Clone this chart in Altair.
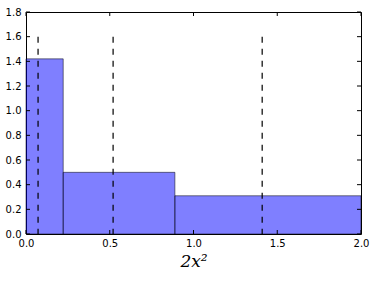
import altair as alt
import pandas as pd

bin_left = [0.0, 0.2222, 0.8889]
bin_right = [0.2222, 0.8889, 2.0]
density = [1.42, 0.50, 0.31]

vline_x = [0.072, 0.52, 1.41]
vline_top = [1.6, 1.6, 1.6]

x_ticks = [0.0, 0.5, 1.0, 1.5, 2.0]
y_ticks = [0.0, 0.2, 0.4, 0.6, 0.8, 1.0, 1.2, 1.4, 1.6, 1.8]

W, H = 335, 222

bars_df = pd.DataFrame({"left": bin_left, "right": bin_right, "h": density})
vl_df = pd.DataFrame({"x": vline_x, "top": vline_top})
xt_df = pd.DataFrame({"t": x_ticks})
yt_df = pd.DataFrame({"t": y_ticks})

xscale = alt.Scale(domain=[0, 2], nice=False, zero=False)
yscale = alt.Scale(domain=[0, 1.8], nice=False)

xaxis = alt.Axis(values=x_ticks, format=".1f", ticks=False, grid=False, domain=False,
                 labelFlush=False, labelOverlap=False, labelPadding=4,
                 labelFont="DejaVu Sans", labelFontSize=10, labelColor="black",
                 title="2x²", titleFont="DejaVu Serif", titleFontSize=17,
                 titleFontStyle="italic",
                 titleFontWeight="normal", titleColor="black", titlePadding=5)
yaxis = alt.Axis(values=y_ticks, format=".1f", ticks=False, grid=False, domain=False,
                 labelFlush=False, labelOverlap=False, labelPadding=5,
                 labelFont="DejaVu Sans", labelFontSize=10, labelColor="black",
                 title=None)

bars = alt.Chart(bars_df).mark_rect(
    fill="blue", fillOpacity=0.5, stroke="black", strokeOpacity=0.5, strokeWidth=1
).encode(
    x=alt.X("left:Q", scale=xscale, axis=xaxis),
    x2="right:Q",
    y=alt.Y("h:Q", scale=yscale, axis=yaxis),
    y2=alt.datum(0),
)

vlines = alt.Chart(vl_df).mark_rule(color="black", strokeDash=[6, 6], strokeWidth=1.2).encode(
    x=alt.X("x:Q", scale=xscale, axis=xaxis),
    y=alt.Y("top:Q", scale=yscale, axis=yaxis),
    y2=alt.datum(0),
)

bt = alt.Chart(xt_df).mark_rule(color="black").encode(
    x=alt.X("t:Q", scale=xscale, axis=xaxis), y=alt.value(H), y2=alt.value(H - 4))
tt = alt.Chart(xt_df).mark_rule(color="black").encode(
    x=alt.X("t:Q", scale=xscale, axis=xaxis), y=alt.value(0), y2=alt.value(4))
lt = alt.Chart(yt_df).mark_rule(color="black").encode(
    y=alt.Y("t:Q", scale=yscale, axis=yaxis), x=alt.value(0), x2=alt.value(4))
rt = alt.Chart(yt_df).mark_rule(color="black").encode(
    y=alt.Y("t:Q", scale=yscale, axis=yaxis), x=alt.value(W), x2=alt.value(W - 4))

chart = alt.layer(bars, vlines, bt, tt, lt, rt).properties(
    width=W, height=H,
    autosize=alt.AutoSizeParams(type="none"),
    padding={"left": 26, "top": 12, "right": 14, "bottom": 48},
    background="white",
).configure_view(stroke="black", strokeWidth=1)

chart.save("out.html", embed_options={"renderer": "svg", "actions": False})
